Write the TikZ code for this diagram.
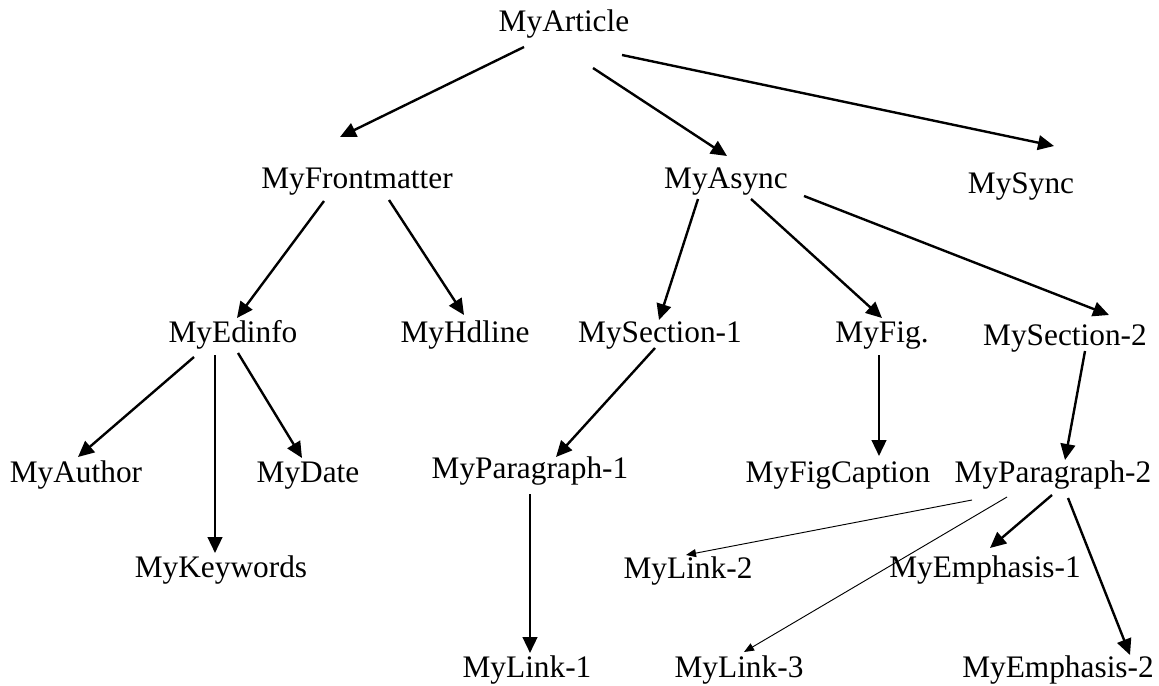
\documentclass[tikz,border=0pt]{standalone}
\usepackage{fontspec}
\setmainfont{Liberation Serif}
\usepackage{tikz}
\usetikzlibrary{arrows.meta}

\begin{document}
\begin{tikzpicture}[x=0.75pt,y=-0.75pt,
  lbl/.style={inner sep=0pt,anchor=base,font=\fontsize{23.5}{27}\selectfont},
  arr/.style={-{Triangle[length=12pt,width=11pt]},line width=1.8pt},
  thinarr/.style={-{Triangle[length=7.5pt,width=6pt]},line width=0.7pt}]
\path[use as bounding box] (0,0) rectangle (1159,685);

\node[lbl] (art) at (564,32) {MyArticle};
\node[lbl] (fm) at (357,188) {MyFrontmatter};
\node[lbl] (async) at (726,188) {MyAsync};
\node[lbl] (sync) at (1021,193) {MySync};
\node[lbl] (ed) at (233,342) {MyEdinfo};
\node[lbl] (hd) at (465,342) {MyHdline};
\node[lbl] (s1) at (660,342) {MySection-1};
\node[lbl] (fig) at (882,342) {MyFig.};
\node[lbl] (s2) at (1065,345) {MySection-2};
\node[lbl] (au) at (76,482) {MyAuthor};
\node[lbl] (date) at (308,482) {MyDate};
\node[lbl] (p1) at (530,478) {MyParagraph-1};
\node[lbl] (cap) at (838,482) {MyFigCaption};
\node[lbl] (p2) at (1053,482) {MyParagraph-2};
\node[lbl] (kw) at (221,577) {MyKeywords};
\node[lbl] (l2) at (688,578) {MyLink-2};
\node[lbl] (e1) at (985,577) {MyEmphasis-1};
\node[lbl] (l1) at (527,677) {MyLink-1};
\node[lbl] (l3) at (739,677) {MyLink-3};
\node[lbl] (e2) at (1058,677) {MyEmphasis-2};

\draw[arr] ([shift={(-40,15)}]art.base) -- ([shift={(-17,-51)}]fm.base);
\draw[arr] ([shift={(29,36)}]art.base) -- ([shift={(1,-32)}]async.base);
\draw[arr] ([shift={(58,23)}]art.base) -- ([shift={(33,-47)}]sync.base);
\draw[arr] ([shift={(-33,13)}]fm.base) -- ([shift={(4,-24)}]ed.base);
\draw[arr] ([shift={(32,12)}]fm.base) -- ([shift={(-1,-27)}]hd.base);
\draw[arr] ([shift={(-28,11)}]async.base) -- ([shift={(-1,-22)}]s1.base);
\draw[arr] ([shift={(25,11)}]async.base) -- ([shift={(0,-24)}]fig.base);
\draw[arr] ([shift={(78,8)}]async.base) -- ([shift={(44,-30)}]s2.base);
\draw[arr] ([shift={(-39,15)}]ed.base) -- ([shift={(2,-25)}]au.base);
\draw[arr] ([shift={(-18,13)}]ed.base) -- ([shift={(-6,-24)}]kw.base);
\draw[arr] ([shift={(5,11)}]ed.base) -- ([shift={(-6,-24)}]date.base);
\draw[arr] ([shift={(-5,6)}]s1.base) -- ([shift={(26,-21)}]p1.base);
\draw[arr] ([shift={(0,16)}]p1.base) -- ([shift={(3,-24)}]l1.base);
\draw[arr] ([shift={(-3,13)}]fig.base) -- ([shift={(41,-26)}]cap.base);
\draw[arr] ([shift={(20,6)}]s2.base) -- ([shift={(12,-22)}]p2.base);
\draw[thinarr] ([shift={(-81,18)}]p2.base) -- ([shift={(-2,-23)}]l2.base);
\draw[thinarr] ([shift={(-46,15)}]p2.base) -- ([shift={(5,-25)}]l3.base);
\draw[arr] ([shift={(-1,13)}]p2.base) -- ([shift={(5,-29)}]e1.base);
\draw[arr] ([shift={(15,16)}]p2.base) -- ([shift={(72,-22)}]e2.base);
\end{tikzpicture}
\end{document}
